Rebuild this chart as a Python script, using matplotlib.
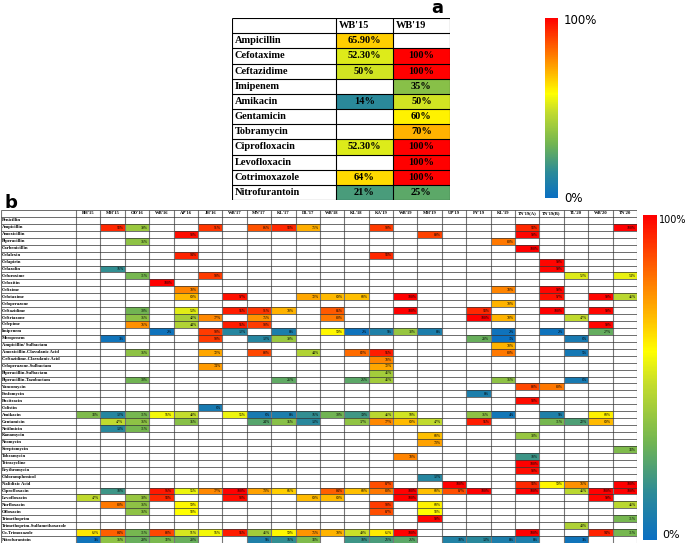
import numpy as np
import matplotlib.pyplot as plt
from matplotlib.colors import LinearSegmentedColormap, Normalize
from matplotlib.cm import ScalarMappable

# panel a data
drugs_a = ["Ampicillin", "Cefotaxime", "Ceftazidime", "Imipenem", "Amikacin", "Gentamicin",
           "Tobramycin", "Ciprofloxacin", "Levofloxacin", "Cotrimoxazole", "Nitrofurantoin"]
years_a = ["WB'15", "WB'19"]
wb15 = [65.9, 52.3, 50, None, 14, None, None, 52.3, None, 64, 21]
wb19 = [None, 100, 100, 35, 50, 60, 70, 100, 100, 100, 25]

# panel b data
sites = ["BH'15", "MH'15", "OD'16", "WB'16", "AP'16", "JH'16", "WB'17", "MN'17", "KL'17", "DL'17",
         "WB'18", "KL'18", "KA'19", "WB'19", "MH'19", "UP'19", "PY'19", "KL'19", "TN'19(A)",
         "TN'19(B)", "TL'20", "WB'20", "TN'20"]
drugs_b = ["Penicillin", "Ampicillin", "Amoxicillin", "Piperacillin", "Carbenicillin", "Cefalexin",
           "Cefapirin", "Cefazolin", "Cefuroxime", "Cefoxitin", "Cefixime", "Cefotaxime",
           "Cefoperazone", "Ceftazidime", "Ceftriaxone", "Cefepime", "Imipenem", "Meropenem",
           "Ampicillin/ Sulbactam", "Amoxicillin-Clavulanic Acid", "Ceftazidime-Clavulanic Acid",
           "Cefoperazone-Sulbactam", "Piperacillin-Sulbactam", "Piperacillin-Tazobactam",
           "Vancomycin", "Fosfomycin", "Bacitracin", "Colistin", "Amikacin", "Gentamicin",
           "Netilmicin", "Kanamycin", "Neomycin", "Streptomycin", "Tobramycin", "Tetracycline",
           "Erythromycin", "Chloramphenicol", "Nalidixic Acid", "Ciprofloxacin", "Levofloxacin",
           "Norfloxacin", "Ofloxacin", "Trimethoprim", "Trimethoprim-Sulfamethoxazole",
           "Co-Trimoxazole", "Nitrofurantoin"]
_ = None
resist_b = [
    [_, _, _, _, _, _, _, _, _, _, _, _, _, _, _, _, _, _, _, _, _, _, _],
    [_, 93, 39, _, _, 91, _, 86, 93, 71, _, _, 90, _, _, _, _, _, 93, _, _, _, 100],
    [_, _, _, _, 98, _, _, _, _, _, _, _, _, _, 89, _, _, _, 99, _, _, _, _],
    [_, _, 36, _, _, _, _, _, _, _, _, _, _, _, _, _, _, 80, _, _, _, _, _],
    [_, _, _, _, _, _, _, _, _, _, _, _, _, _, _, _, _, _, 100, _, _, _, _],
    [_, _, _, _, 94, _, _, _, _, _, _, _, 93, _, _, _, _, _, _, _, _, _, _],
    [_, _, _, _, _, _, _, _, _, _, _, _, _, _, _, _, _, _, _, 99, _, _, _],
    [_, 16, _, _, _, _, _, _, _, _, _, _, _, _, _, _, _, _, _, 99, _, _, _],
    [_, _, 31, _, _, 90, _, _, _, _, _, _, _, _, _, _, _, _, _, _, 52, _, 54],
    [_, _, _, 100, _, _, _, _, _, _, _, _, _, _, _, _, _, _, _, _, _, _, _],
    [_, _, _, _, 78, _, _, _, _, _, _, _, _, _, _, _, _, 78, _, 99, _, _, _],
    [_, _, _, _, 69, _, 97, _, _, 72, 69, 68, _, 100, _, _, _, _, _, 97, _, 99, 46],
    [_, _, _, _, _, _, _, _, _, _, _, _, _, _, _, _, _, 70, _, _, _, _, _],
    [_, _, 30, _, 53, _, 95, 91, 70, _, 85, _, _, 100, _, _, 93, _, _, 100, _, 99, _],
    [_, _, 36, _, 42, 77, _, 75, _, _, 80, _, _, _, _, _, 100, 70, _, _, 47, _, _],
    [_, _, 76, _, 44, _, 95, 90, _, _, _, _, _, _, _, _, _, _, _, _, _, 99, _],
    [_, _, _, 2, _, 90, 12, _, 8, _, 59, 2, 9, 38, 8, _, _, 2, _, 2, _, 27, _],
    [_, 3, _, _, _, 90, _, 12, 39, _, _, _, _, _, _, _, 28, 1, _, _, 6, _, _],
    [_, _, _, _, _, _, _, _, _, _, _, _, _, _, _, _, _, 70, _, _, _, _, _],
    [_, _, 36, _, _, 72, _, 88, _, 44, _, 82, 95, _, _, _, _, 80, _, _, 5, _, _],
    [_, _, _, _, _, _, _, _, _, _, _, _, 78, _, _, _, _, _, _, _, _, _, _],
    [_, _, _, _, _, 74, _, _, _, _, _, _, 72, _, _, _, _, _, _, _, _, _, _],
    [_, _, _, _, _, _, _, _, _, _, _, _, 41, _, _, _, _, _, _, _, _, _, _],
    [_, _, 30, _, _, _, _, _, 26, _, _, 25, 41, _, _, _, _, 36, _, _, 6, _, _],
    [_, _, _, _, _, _, _, _, _, _, _, _, _, _, _, _, _, _, 88, 80, _, _, _],
    [_, _, _, _, _, _, _, _, _, _, _, _, _, _, _, _, 8, _, _, _, _, _, _],
    [_, _, _, _, _, _, _, _, _, _, _, _, _, _, _, _, _, _, 98, _, _, _, _],
    [_, _, _, _, _, 6, _, _, _, _, _, _, _, _, _, _, _, _, _, _, _, _, _],
    [33, 12, 31, 56, 48, _, 55, 6, 8, 16, 30, 19, 46, 50, _, _, 36, 4, _, 9, _, 60, _],
    [_, 47, 36, _, 35, _, _, 24, 35, 13, _, 37, 77, 69, 47, _, 95, _, _, 31, 22, 69, _],
    [_, 13, 31, _, _, _, _, _, _, _, _, _, _, _, _, _, _, _, _, _, _, _, _],
    [_, _, _, _, _, _, _, _, _, _, _, _, _, _, 68, _, _, _, 38, _, _, _, _],
    [_, _, _, _, _, _, _, _, _, _, _, _, _, _, 73, _, _, _, _, _, _, _, _],
    [_, _, _, _, _, _, _, _, _, _, _, _, _, _, _, _, _, _, _, _, _, _, 33],
    [_, _, _, _, _, _, _, _, _, _, _, _, _, 78, _, _, _, _, 18, _, _, _, _],
    [_, _, _, _, _, _, _, _, _, _, _, _, _, _, _, _, _, _, 100, _, _, _, _],
    [_, _, _, _, _, _, _, _, _, _, _, _, _, _, _, _, _, _, 98, _, _, _, _],
    [_, _, _, _, _, _, _, _, _, _, _, _, _, _, 12, _, _, _, _, _, _, _, _],
    [_, _, _, _, _, _, _, _, _, _, _, _, 87, _, _, 100, _, _, 93, 59, 76, _, 100],
    [_, 18, _, 96, 55, 77, 100, 73, 66, _, 84, 68, 80, 100, 68, 87, 100, _, 100, _, 46, 100, 100],
    [47, _, 38, 93, _, _, 98, _, _, 69, 69, _, _, 100, _, _, _, _, _, _, _, 99, _],
    [_, 80, 36, _, 59, _, _, _, _, _, _, _, 90, _, 60, _, _, _, _, _, _, _, 46],
    [_, _, 36, _, 58, _, _, _, _, _, _, _, 87, _, 58, _, _, _, _, _, _, _, _],
    [_, _, _, _, _, _, _, _, _, _, _, _, _, _, 99, _, _, _, _, _, _, _, 31],
    [_, _, _, _, _, _, _, _, _, _, _, _, _, _, _, _, _, _, _, _, 43, _, _],
    [62, 84, 31, 88, 51, 56, 95, 41, 59, 75, 70, 49, 61, 100, _, _, _, _, 100, _, _, 94, 31],
    [3, 36, 28, 32, 28, _, _, 9, 16, 33, _, 18, 21, 25, _, 10, 13, 8, 8, _, 3, _, _],
]

W, H = 685, 545
fig = plt.figure(figsize=(W / 100, H / 100), dpi=100)
serif = "Liberation Serif"

cmap = LinearSegmentedColormap.from_list("amr", [
    (0.0, "#0a6fc2"), (0.14, "#2b8a99"), (0.30, "#72b552"), (0.48, "#c4dc2c"),
    (0.58, "#ffff00"), (0.70, "#ffb400"), (0.85, "#ff5a00"), (1.0, "#ff0000")])
norm = Normalize(0, 100)


def px_axes(x0, y0, x1, y1):
    return fig.add_axes([x0 / W, 1 - y1 / H, (x1 - x0) / W, (y1 - y0) / H])


def pct(v):
    return f"{v:.2f}%" if v != int(v) else f"{int(v)}%"


# ---------- panel a ----------
ax = px_axes(232, 18, 450, 200)
lab_w = 1.82
vals_a = np.array([[np.nan if v is None else v for v in col] for col in (wb15, wb19)]).T
ax.pcolormesh([0, 1, 2], np.arange(len(drugs_a) + 1), np.ma.masked_invalid(vals_a),
              cmap=cmap, norm=norm)
ax.set_xlim(-lab_w, 2)
ax.set_ylim(len(drugs_a), -1)
ax.axis("off")
ax.vlines([-lab_w, 0, 1, 2], -1, len(drugs_a), color="black", lw=0.8)
ax.hlines(np.arange(-1, len(drugs_a) + 1), -lab_w, 2, color="black", lw=0.8)
for j, yr in enumerate(years_a):
    ax.text(j + 0.06, -0.5, yr, ha="left", va="center", family=serif, weight="bold", fontsize=7.5)
for i, d in enumerate(drugs_a):
    ax.text(-lab_w + 0.05, i + 0.5, d, ha="left", va="center", family=serif, weight="bold", fontsize=7.5)
    for j in range(2):
        v = vals_a[i, j]
        if not np.isnan(v):
            ax.text(j + 0.5, i + 0.5, pct(v), ha="center", va="center", family=serif,
                    weight="bold", fontsize=7.5)
fig.text(437 / W, 1 - 8 / H, "a", ha="center", va="center", weight="bold", fontsize=13)

cax = px_axes(545, 18, 558, 198)
fig.colorbar(ScalarMappable(norm, cmap), cax=cax, ticks=[])
cax.set_frame_on(False)
fig.text(564 / W, 1 - 20 / H, "100%", ha="left", va="center", fontsize=8.5)
fig.text(564 / W, 1 - 198 / H, "0%", ha="left", va="center", fontsize=8.5)

# ---------- panel b ----------
ax = px_axes(1, 210, 637, 543)
lw_b = 75 / 24.4
nrow, ncol = len(drugs_b), len(sites)
vals_b = np.array([[np.nan if v is None else v for v in row] for row in resist_b], dtype=float)
ax.pcolormesh(np.arange(ncol + 1), np.arange(nrow + 1), np.ma.masked_invalid(vals_b),
              cmap=cmap, norm=norm)
ax.set_xlim(-lw_b, ncol)
ax.set_ylim(nrow, -1)
ax.axis("off")
ax.vlines(np.r_[-lw_b, np.arange(ncol + 1)], -1, nrow, color="#777777", lw=0.8)
ax.hlines(np.arange(-1, nrow + 1), -lw_b, ncol, color="#333333", lw=0.5)
for j, s in enumerate(sites):
    ax.text(j + 0.5, -0.5, s, ha="center", va="center", family=serif, weight="bold", fontsize=3.3)
for i, d in enumerate(drugs_b):
    ax.text(-lw_b + 0.05, i + 0.5, d, ha="left", va="center", family=serif, weight="bold", fontsize=3.3)
    for j in range(ncol):
        v = vals_b[i, j]
        if not np.isnan(v):
            ax.text(j + 0.95, i + 0.55, pct(v), ha="right", va="center", family=serif,
                    fontsize=2.8)
fig.text(5 / W, 1 - 203 / H, "b", ha="left", va="center", weight="bold", fontsize=13)

cax = px_axes(643, 215, 657, 540)
fig.colorbar(ScalarMappable(norm, cmap), cax=cax, ticks=[])
cax.set_frame_on(False)
fig.text(659 / W, 1 - 220 / H, "100%", ha="left", va="center", fontsize=7)
fig.text(662 / W, 1 - 535 / H, "0%", ha="left", va="center", fontsize=8)

fig.savefig("out.png", dpi=100)
